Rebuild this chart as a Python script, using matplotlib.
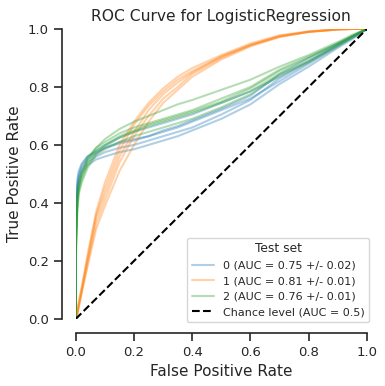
import matplotlib
matplotlib.use("Agg")
import matplotlib.pyplot as plt
import seaborn as sns

# false positive rate grid shared by all folds
fpr = [0, 0, 0.005, 0.01, 0.02, 0.04, 0.07, 0.1, 0.15, 0.2, 0.25, 0.3,
       0.35, 0.4, 0.5, 0.6, 0.7, 0.8, 0.9, 0.95, 1.0]

# true positive rates per fold
tpr_class0 = [
    [0, 0.32, 0.46, 0.49, 0.52, 0.55, 0.57, 0.59, 0.61, 0.62, 0.63, 0.645, 0.66, 0.68, 0.72, 0.76, 0.82, 0.88, 0.94, 0.97, 1],
    [0, 0.28, 0.44, 0.48, 0.51, 0.54, 0.56, 0.575, 0.59, 0.60, 0.615, 0.63, 0.645, 0.66, 0.705, 0.755, 0.83, 0.885, 0.945, 0.975, 1],
    [0, 0.35, 0.48, 0.51, 0.535, 0.56, 0.58, 0.60, 0.625, 0.645, 0.66, 0.675, 0.69, 0.705, 0.745, 0.785, 0.835, 0.89, 0.945, 0.97, 1],
    [0, 0.25, 0.42, 0.46, 0.50, 0.53, 0.55, 0.56, 0.575, 0.585, 0.60, 0.615, 0.63, 0.65, 0.69, 0.74, 0.81, 0.87, 0.935, 0.965, 1],
    [0, 0.30, 0.45, 0.50, 0.53, 0.56, 0.575, 0.59, 0.605, 0.615, 0.63, 0.65, 0.665, 0.685, 0.725, 0.77, 0.845, 0.90, 0.95, 0.975, 1],
]
tpr_class1 = [
    [0, 0, 0.02, 0.05, 0.10, 0.21, 0.36, 0.45, 0.58, 0.67, 0.735, 0.785, 0.825, 0.855, 0.905, 0.945, 0.975, 0.99, 0.998, 1, 1],
    [0, 0, 0.02, 0.04, 0.09, 0.19, 0.33, 0.41, 0.54, 0.63, 0.70, 0.76, 0.80, 0.845, 0.90, 0.943, 0.973, 0.99, 0.998, 1, 1],
    [0, 0, 0.03, 0.06, 0.11, 0.22, 0.37, 0.47, 0.60, 0.68, 0.745, 0.795, 0.835, 0.865, 0.91, 0.95, 0.978, 0.992, 0.999, 1, 1],
    [0, 0, 0.015, 0.04, 0.09, 0.18, 0.31, 0.39, 0.51, 0.60, 0.68, 0.745, 0.79, 0.835, 0.895, 0.94, 0.972, 0.99, 0.998, 1, 1],
    [0, 0, 0.02, 0.05, 0.10, 0.20, 0.35, 0.43, 0.56, 0.645, 0.72, 0.775, 0.815, 0.85, 0.905, 0.945, 0.976, 0.99, 0.999, 1, 1],
]
tpr_class2 = [
    [0, 0.22, 0.38, 0.44, 0.48, 0.53, 0.57, 0.595, 0.625, 0.645, 0.665, 0.68, 0.695, 0.71, 0.745, 0.785, 0.845, 0.89, 0.945, 0.975, 1],
    [0, 0.26, 0.41, 0.46, 0.50, 0.55, 0.59, 0.62, 0.655, 0.68, 0.70, 0.72, 0.74, 0.755, 0.79, 0.825, 0.87, 0.91, 0.955, 0.98, 1],
    [0, 0.24, 0.40, 0.45, 0.49, 0.54, 0.58, 0.60, 0.63, 0.65, 0.67, 0.685, 0.70, 0.715, 0.75, 0.795, 0.855, 0.90, 0.95, 0.975, 1],
    [0, 0.28, 0.42, 0.47, 0.51, 0.555, 0.59, 0.61, 0.64, 0.66, 0.675, 0.69, 0.705, 0.72, 0.76, 0.80, 0.86, 0.905, 0.95, 0.975, 1],
    [0, 0.20, 0.37, 0.43, 0.47, 0.52, 0.565, 0.585, 0.61, 0.63, 0.645, 0.66, 0.675, 0.69, 0.73, 0.775, 0.84, 0.885, 0.94, 0.97, 1],
]

class_labels = ["0 (AUC = 0.75 +/- 0.02)",
                "1 (AUC = 0.81 +/- 0.01)",
                "2 (AUC = 0.76 +/- 0.01)"]
colors = ["tab:blue", "tab:orange", "tab:green"]

sns.set_style("ticks")
plt.rcParams["font.family"] = ["DejaVu Sans"]

fig = plt.figure(figsize=(3.85, 3.86), dpi=100)
ax = fig.add_axes([0.197, 0.174, 0.756, 0.751])

for tprs, color, label in zip([tpr_class0, tpr_class1, tpr_class2], colors, class_labels):
    for i, tpr in enumerate(tprs):
        ax.plot(fpr, tpr, color=color, alpha=0.35, linewidth=1.5,
                label=label if i == 0 else None)

ax.plot([0, 1], [0, 1], "k--", linewidth=1.5, label="Chance level (AUC = 0.5)")

ax.set_xlim(0, 1)
ax.set_ylim(0, 1)
ax.set_xticks([0, 0.2, 0.4, 0.6, 0.8, 1.0])
ax.set_yticks([0, 0.2, 0.4, 0.6, 0.8, 1.0])
ax.tick_params(labelsize=9.5, length=6, width=1.2)
ax.set_xlabel("False Positive Rate", fontsize=11)
ax.set_ylabel("True Positive Rate", fontsize=11)
ax.set_title("ROC Curve for LogisticRegression", fontsize=11.2)
sns.despine(ax=ax, offset=10, trim=True)
for side in ["left", "bottom"]:
    ax.spines[side].set_linewidth(1.2)

leg = ax.legend(loc="lower right", bbox_to_anchor=(1.007, -0.01), borderaxespad=0,
                title="Test set", fontsize=8, title_fontsize=8.8)

fig.savefig("out.png", dpi=100)
